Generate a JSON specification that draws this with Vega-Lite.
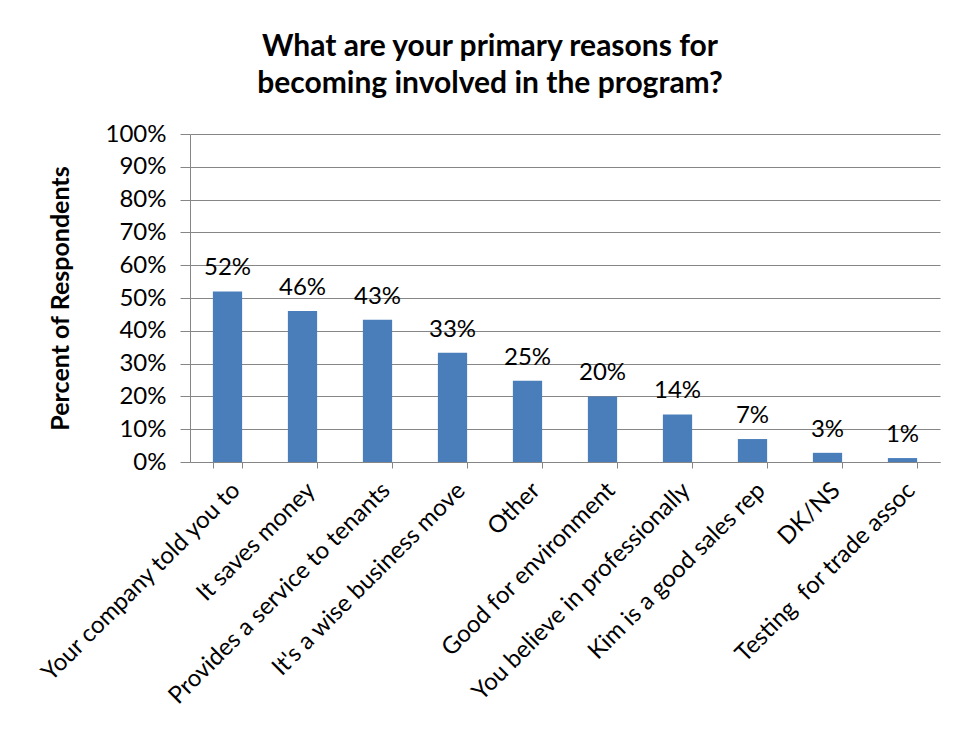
{
  "$schema": "https://vega.github.io/schema/vega-lite/v6.json",
  "autosize": {"type": "none"},
  "width": 750,
  "height": 328,
  "padding": {"left": 190, "top": 134, "right": 21, "bottom": 275},
  "background": "white",
  "title": {
    "text": ["What are your primary reasons for", "becoming involved in the program?"],
    "font": "Lato",
    "fontSize": 30,
    "fontWeight": "bold",
    "color": "#000000",
    "anchor": "middle",
    "dx": -75,
    "lineHeight": 37,
    "offset": 23
  },
  "data": {
    "values": [
      {"reason": "Your company told you to", "pct": 0.52},
      {"reason": "It saves money", "pct": 0.46},
      {"reason": "Provides a service to tenants", "pct": 0.434},
      {"reason": "It's a wise business move", "pct": 0.333},
      {"reason": "Other", "pct": 0.248},
      {"reason": "Good for environment", "pct": 0.2},
      {"reason": "You believe in professionally", "pct": 0.145},
      {"reason": "Kim is a good sales rep", "pct": 0.07},
      {"reason": "DK/NS", "pct": 0.028},
      {"reason": "Testing\u00a0 for trade assoc", "pct": 0.012}
    ]
  },
  "encoding": {
    "x": {
      "field": "reason",
      "type": "nominal",
      "sort": null,
      "scale": {"paddingInner": 0.61, "paddingOuter": 0.305},
      "axis": {
        "title": null,
        "labelAngle": -45,
        "labelAlign": "right",
        "labelBaseline": "top",
        "labelFont": "Lato",
        "labelFontSize": 24,
        "labelColor": "#000000",
        "labelPadding": 10,
        "labelLimit": 400,
        "tickBand": "extent",
        "tickSize": 6,
        "tickColor": "#868686",
        "domainColor": "#868686",
        "grid": false
      }
    },
    "y": {
      "field": "pct",
      "type": "quantitative",
      "scale": {"domain": [0, 1], "nice": false},
      "axis": {
        "title": "Percent of Respondents",
        "titleFont": "Lato",
        "titleFontSize": 25,
        "titleFontWeight": "bold",
        "titleColor": "#000000",
        "titleX": -130,
        "titleY": 164,
        "titleAngle": -90,
        "titleAlign": "center",
        "titleBaseline": "middle",
        "format": ".0%",
        "values": [0, 0.1, 0.2, 0.3, 0.4, 0.5, 0.6, 0.7, 0.8, 0.9, 1],
        "labelFont": "Lato",
        "labelFontSize": 24,
        "labelColor": "#000000",
        "labelPadding": 14,
        "tickSize": 10,
        "tickColor": "#868686",
        "domainColor": "#868686",
        "gridColor": "#868686",
        "gridWidth": 1
      }
    }
  },
  "layer": [
    {"mark": {"type": "bar", "color": "#4a7ebb"}},
    {
      "mark": {"type": "text", "font": "Lato", "fontSize": 24, "color": "#000000", "baseline": "alphabetic", "dy": -16},
      "encoding": {"text": {"field": "pct", "type": "quantitative", "format": ".0%"}}
    }
  ],
  "config": {"view": {"stroke": null}}
}
